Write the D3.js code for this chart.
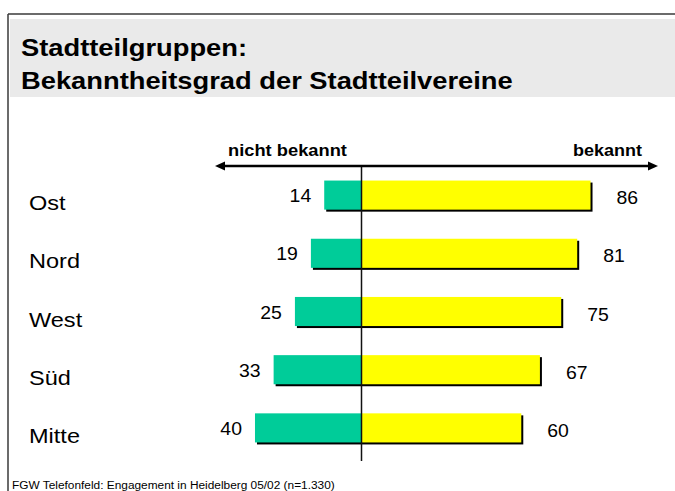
<!DOCTYPE html>
<html><head><meta charset="utf-8">
<script src="https://cdn.jsdelivr.net/npm/d3@7"></script>
<style>html,body{margin:0;padding:0;background:#fff;overflow:hidden}text{font-family:Arial,"Liberation Sans",sans-serif}</style>
</head><body><svg id="c" width="675" height="491"></svg>
<script>
const categories = ["Ost", "Nord", "West", "Süd", "Mitte"];
const nichtBekannt = [14, 19, 25, 33, 40];
const bekannt = [86, 81, 75, 67, 60];
const titleLines = ["Stadtteilgruppen:", "Bekanntheitsgrad der Stadtteilvereine"];
const axisLabels = ["nicht bekannt", "bekannt"];
const footer = "FGW Telefonfeld: Engagement in Heidelberg 05/02 (n=1.330)";

const svg = d3.select("#c");
const W = 675, H = 491;

// frame
svg.append("rect").attr("x", 10).attr("y", 19).attr("width", W - 10).attr("height", 78).attr("fill", "#eaeaea");
svg.append("line").attr("x1", 8).attr("x2", W).attr("y1", 14).attr("y2", 14).attr("stroke", "#3a3a3a").attr("stroke-width", 1.5);
svg.append("line").attr("x1", 8).attr("x2", 8).attr("y1", 14).attr("y2", H).attr("stroke", "#3a3a3a").attr("stroke-width", 1.5);

// helper: stretched text
function stretchText(g, txt, x, y, size, weight, targetWidth, anchor) {
  const t = g.append("text").text(txt).attr("font-size", size).attr("font-weight", weight).attr("x", 0).attr("y", 0);
  const w = t.node().getComputedTextLength();
  const sx = targetWidth ? targetWidth / w : 1;
  let dx = 0;
  if (anchor === "end") dx = -w * sx;
  if (anchor === "middle") dx = -w * sx / 2;
  t.attr("transform", `translate(${x + dx},${y}) scale(${sx},1)`);
  return {t, sx, w};
}

// title
const tg = svg.append("g");
const l2 = stretchText(tg, titleLines[1], 21, 89, 24, "bold", 492);
const l1 = tg.append("text").text(titleLines[0]).attr("font-size", 24).attr("font-weight", "bold")
  .attr("transform", `translate(21,56) scale(${l2.sx},1)`);

// scales
const x = d3.scaleLinear().domain([-50, 100]).range([361.5 - 50 * 2.663, 361.5 + 100 * 2.663]);
const y = d3.scaleBand().domain(categories).range([166, 457]).paddingInner(0.5).paddingOuter(0.25);

const data = categories.map((c, i) => ({c, n: nichtBekannt[i], b: bekannt[i]}));

// bar shadows
svg.append("g").selectAll("rect").data(data).join("rect")
  .attr("x", d => x(-d.n) + 2).attr("y", d => y(d.c) + 2)
  .attr("width", d => x(d.b) - x(-d.n)).attr("height", y.bandwidth()).attr("fill", "#000");
// bars
svg.append("g").selectAll("rect").data(data).join("rect")
  .attr("x", d => x(-d.n)).attr("y", d => y(d.c))
  .attr("width", d => x(0) - x(-d.n)).attr("height", y.bandwidth()).attr("fill", "#00cc99");
svg.append("g").selectAll("rect").data(data).join("rect")
  .attr("x", x(0)).attr("y", d => y(d.c))
  .attr("width", d => x(d.b) - x(0)).attr("height", y.bandwidth()).attr("fill", "#ffff00");

// center line
svg.append("line").attr("x1", x(0)).attr("x2", x(0)).attr("y1", 166).attr("y2", 461).attr("stroke", "#111").attr("stroke-width", 1.5);

// arrow
const ay = 166;
svg.append("line").attr("x1", 222).attr("x2", 651).attr("y1", ay).attr("y2", ay).attr("stroke", "#000").attr("stroke-width", 2.5);
svg.append("path").attr("d", `M215,${ay} L225,${ay - 4.5} L225,${ay + 4.5} Z`).attr("fill", "#000");
svg.append("path").attr("d", `M658,${ay} L648,${ay - 4.5} L648,${ay + 4.5} Z`).attr("fill", "#000");

// axis labels
stretchText(svg, axisLabels[0], 228, 156, 16, "bold", 119);
stretchText(svg, axisLabels[1], 642, 156, 16, "bold", 69, "end");

// category labels
const cg = svg.append("g");
const mitteMeasure = cg.append("text").text("Mitte").attr("font-size", 21);
const cSx = 51 / mitteMeasure.node().getComputedTextLength();
mitteMeasure.remove();
cg.selectAll("text").data(data).join("text")
  .text(d => d.c).attr("font-size", 21)
  .attr("transform", d => `translate(29,${y(d.c) + y.bandwidth() / 2 + 15}) scale(${cSx},1)`);

// value labels
const vSx = 1.08;
svg.append("g").selectAll("text").data(data).join("text")
  .text(d => d.n).attr("font-size", 18).attr("text-anchor", "end")
  .attr("transform", d => `translate(${x(-d.n) - 13},${y(d.c) + y.bandwidth() / 2 + 7}) scale(${vSx},1)`);
svg.append("g").selectAll("text").data(data).join("text")
  .text(d => d.b).attr("font-size", 18).attr("text-anchor", "start")
  .attr("transform", d => `translate(${x(d.b) + 26},${y(d.c) + y.bandwidth() / 2 + 9}) scale(${vSx},1)`);

// footer
stretchText(svg, footer, 12, 489, 11, "normal", 323);
</script></body></html>
